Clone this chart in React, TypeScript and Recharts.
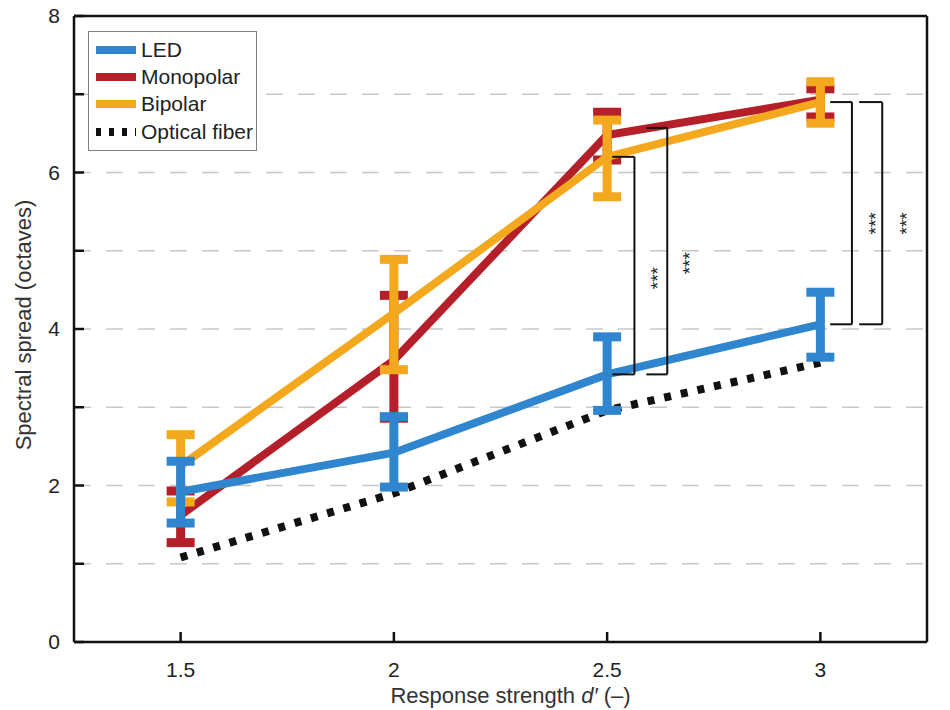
import React from 'react';
import {
  LineChart,
  Line,
  XAxis,
  YAxis,
  CartesianGrid,
  ErrorBar,
  ReferenceLine,
  ReferenceDot,
  Legend,
} from 'recharts';

// ---- data ----
const strengths = [1.5, 2, 2.5, 3];
const xTicks = [1.5, 2, 2.5, 3];
const yTicks = [0, 1, 2, 3, 4, 5, 6, 7, 8];

const ledMean = [1.92, 2.42, 3.42, 4.06];
const ledLow = [1.52, 1.98, 2.96, 3.64];
const ledHigh = [2.31, 2.88, 3.9, 4.47];

const monoMean = [1.62, 3.6, 6.48, 6.93];
const monoLow = [1.27, 2.86, 6.16, 6.71];
const monoHigh = [1.93, 4.43, 6.77, 7.07];

const biMean = [2.25, 4.2, 6.2, 6.9];
const biLow = [1.79, 3.48, 5.69, 6.63];
const biHigh = [2.65, 4.89, 6.67, 7.16];

const fiberMean = [1.08, 1.9, 2.96, 3.57];

// significance brackets (data coordinates)
const bracketInnerX = [2.512, 2.592, 3.023, 3.091];
const bracketOuterX = [2.564, 2.641, 3.074, 3.145];
const bracketLow = [3.42, 3.42, 4.06, 4.06];
const bracketHigh = [6.2, 6.57, 6.9, 6.9];
const starX = [2.611, 2.686, 3.121, 3.194];
const starY = [4.65, 4.84, 5.35, 5.35];
const starText = ['***', '***', '***', '***'];

const seriesNames = ['LED', 'Monopolar', 'Bipolar', 'Optical fiber'];

const BLUE = '#2f86cf';
const RED = '#b51f29';
const YELLOW = '#f4a81e';
const FONT = '"Liberation Sans", Arial, Helvetica, sans-serif';

const tableData = strengths.map((x, i) => ({
  x,
  led: ledMean[i],
  ledErr: [ledMean[i] - ledLow[i], ledHigh[i] - ledMean[i]],
  mono: monoMean[i],
  monoErr: [monoMean[i] - monoLow[i], monoHigh[i] - monoMean[i]],
  bi: biMean[i],
  biErr: [biMean[i] - biLow[i], biHigh[i] - biMean[i]],
  fiber: fiberMean[i],
}));

const legendItems = [
  { name: seriesNames[0], color: BLUE, dash: undefined as string | undefined },
  { name: seriesNames[1], color: RED, dash: undefined },
  { name: seriesNames[2], color: YELLOW, dash: undefined },
  { name: seriesNames[3], color: '#111', dash: '5 8' },
];

const LegendBox = () => (
  <div
    style={{
      border: '1.5px solid #808080',
      background: '#fff',
      width: 169,
      height: 120,
      boxSizing: 'border-box',
      padding: '4px 0 0 7px',
      fontFamily: FONT,
      fontSize: 21,
      color: '#222',
    }}
  >
    {legendItems.map((it) => (
      <div key={it.name} style={{ display: 'flex', alignItems: 'center', height: 27.3 }}>
        <svg width={42} height={10} style={{ marginRight: 3 }}>
          <line
            x1={0}
            y1={5}
            x2={40}
            y2={5}
            stroke={it.color}
            strokeWidth={8}
            strokeDasharray={it.dash}
          />
        </svg>
        <span>{it.name}</span>
      </div>
    ))}
  </div>
);

const StarShape = (label: string) => (p: any) => (
  <text
    x={p.cx}
    y={p.cy}
    transform={`rotate(-90 ${p.cx} ${p.cy})`}
    textAnchor="middle"
    dy={10}
    fontSize={19}
    fontFamily={FONT}
    fill="#222"
  >
    {label}
  </text>
);

const XLabel = (props: any) => {
  const vb = props.viewBox;
  return (
    <text
      x={vb.x + vb.width / 2 + 10}
      y={703}
      textAnchor="middle"
      fontSize={22}
      fontFamily={FONT}
      fill="#333"
    >
      Response strength <tspan fontStyle="italic">d′</tspan> (–)
    </text>
  );
};

const YLabel = () => (
  <text
    x={31}
    y={325}
    transform="rotate(-90 31 325)"
    textAnchor="middle"
    fontSize={22}
    fontFamily={FONT}
    fill="#333"
  >
    Spectral spread (octaves)
  </text>
);

export default function App() {
  return (
    <div style={{ position: 'absolute', left: 0, top: 0, width: 950, height: 710, background: '#fff' }}>
      <LineChart
        width={950}
        height={710}
        data={tableData}
        margin={{ top: 16, right: 23, left: 0, bottom: 0 }}
      >
        <CartesianGrid
          horizontal
          vertical={false}
          stroke="#c8c8c8"
          strokeWidth={1.5}
          strokeDasharray="17 15"
        />
        <XAxis
          dataKey="x"
          type="number"
          domain={[1.25, 3.25]}
          ticks={xTicks}
          height={68}
          tickSize={-10}
          tickMargin={30}
          stroke="#111"
          strokeWidth={2.5}
          tick={{ fontSize: 21, fill: '#222', fontFamily: FONT }}
          tickFormatter={(v: number) => String(v)}
          label={<XLabel />}
        />
        <YAxis
          type="number"
          domain={[0, 8]}
          ticks={yTicks}
          width={74}
          tickSize={-10}
          tickMargin={24}
          stroke="#111"
          strokeWidth={2.5}
          tick={{ fontSize: 21, fill: '#222', fontFamily: FONT }}
          tickFormatter={(v: number) => (v % 2 === 0 ? String(v) : '')}
          label={<YLabel />}
        />
        <ReferenceLine y={8} stroke="#111" strokeWidth={2.5} />
        <ReferenceLine x={3.25} stroke="#111" strokeWidth={2.5} />

        <Line
          dataKey="fiber"
          stroke="#111"
          strokeWidth={8}
          strokeDasharray="7 10"
          dot={false}
          activeDot={false}
          isAnimationActive={false}
          name={seriesNames[3]}
        />
        <Line
          dataKey="mono"
          stroke={RED}
          strokeWidth={8}
          dot={false}
          activeDot={false}
          isAnimationActive={false}
          name={seriesNames[1]}
        >
          <ErrorBar dataKey="monoErr" direction="y" width={14} strokeWidth={9} stroke={RED} isAnimationActive={false} />
        </Line>
        <Line
          dataKey="bi"
          stroke={YELLOW}
          strokeWidth={8}
          dot={false}
          activeDot={false}
          isAnimationActive={false}
          name={seriesNames[2]}
        >
          <ErrorBar dataKey="biErr" direction="y" width={14} strokeWidth={9} stroke={YELLOW} isAnimationActive={false} />
        </Line>
        <Line
          dataKey="led"
          stroke={BLUE}
          strokeWidth={8}
          dot={false}
          activeDot={false}
          isAnimationActive={false}
          name={seriesNames[0]}
        >
          <ErrorBar dataKey="ledErr" direction="y" width={14} strokeWidth={9} stroke={BLUE} isAnimationActive={false} />
        </Line>

        {bracketOuterX.map((bx, i) => (
          <ReferenceLine
            key={`bt${i}`}
            segment={[
              { x: bracketInnerX[i], y: bracketHigh[i] },
              { x: bx, y: bracketHigh[i] },
            ]}
            stroke="#111"
            strokeWidth={2}
          />
        ))}
        {bracketOuterX.map((bx, i) => (
          <ReferenceLine
            key={`bv${i}`}
            segment={[
              { x: bx, y: bracketLow[i] },
              { x: bx, y: bracketHigh[i] },
            ]}
            stroke="#111"
            strokeWidth={2}
          />
        ))}
        {bracketOuterX.map((bx, i) => (
          <ReferenceLine
            key={`bb${i}`}
            segment={[
              { x: bracketInnerX[i], y: bracketLow[i] },
              { x: bx, y: bracketLow[i] },
            ]}
            stroke="#111"
            strokeWidth={2}
          />
        ))}
        {starX.map((sx, i) => (
          <ReferenceDot key={`s${i}`} x={sx} y={starY[i]} r={0} shape={StarShape(starText[i])} />
        ))}

        <Legend
          layout="vertical"
          align="center"
          verticalAlign="middle"
          content={() => <LegendBox />}
          wrapperStyle={{ position: 'absolute', left: 88, top: 31, width: 170, height: 122 }}
        />
      </LineChart>
    </div>
  );
}
